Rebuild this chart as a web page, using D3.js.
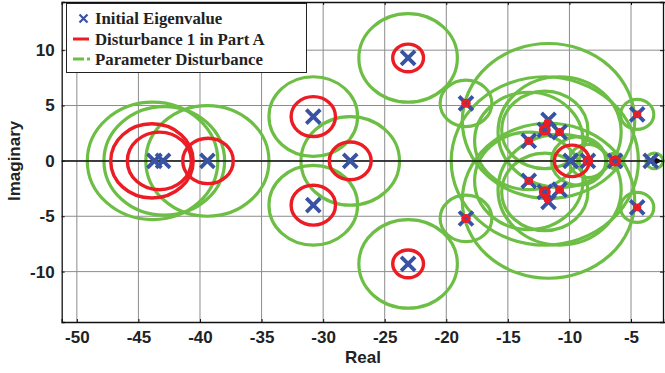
<!DOCTYPE html>
<html>
<head>
<meta charset="utf-8">
<script src="https://cdn.jsdelivr.net/npm/d3@7"></script>
<style>
body { margin: 0; background: #fff; }
svg { display: block; }
</style>
</head>
<body>
<svg id="drawing_region"></svg>
<script>
// tick values
const xTicks = [-50, -45, -40, -35, -30, -25, -20, -15, -10, -5];
const yTicks = [-10, -5, 0, 5, 10];

// initial eigenvalues (real, imag)
const eigReal = [-43.7, -43.0, -39.4, -30.8, -30.8, -27.8, -23.1, -23.1, -18.4, -18.4,
                 -13.3, -13.3, -11.7, -11.7, -12.0, -12.0, -10.8, -10.8, -9.9, -8.5,
                 -6.3, -4.5, -4.5, -3.4];
const eigImag = [0, 0, 0, 4.0, -4.0, 0, 9.3, -9.3, 5.2, -5.2,
                 1.8, -1.8, 3.7, -3.7, 2.8, -2.8, 2.6, -2.6, 0, 0,
                 0, 4.2, -4.2, 0];

// disturbance 1 in part A (centre real, centre imag, radius)
const redX = [-43.9, -43.3, -39.35, -30.8, -30.8, -27.8, -23.1, -23.1, -18.4, -18.4,
              -13.3, -13.3, -12.0, -12.0, -10.8, -10.8, -11.8, -11.8, -9.8, -8.5, -6.3, -4.5, -4.5];
const redY = [0, 0, 0, 4.0, -4.0, 0, 9.3, -9.3, 5.2, -5.2,
              1.8, -1.8, 2.8, -2.8, 2.6, -2.6, 3.5, -3.5, 0, 0, 0, 4.2, -4.2];
const redR = [3.35, 2.6, 2.05, 1.8, 1.8, 1.7, 1.25, 1.25, 0.25, 0.25,
              0.22, 0.22, 0.35, 0.35, 0.22, 0.22, 0.15, 0.15, 1.42, 0.3, 0.35, 0.2, 0.2];

// parameter disturbance (centre real, centre imag, radius)
const greenX = [-43.85, -42.9, -39.4, -30.8, -30.8, -27.8, -23.1, -23.1, -18.4, -18.4,
                -11.7, -11.7, -12.0, -13.3, -13.3, -10.8, -10.8, -12.0, -12.0,
                -9.25, -8.5, -6.3, -3.1, -4.5, -4.5];
const greenY = [0, 0, 0, 4.0, -4.0, 0, 9.3, -9.3, 5.2, -5.2,
                3.6, -3.6, 0, 1.8, -1.8, 2.6, -2.6, 2.8, -2.8,
                0, 0, 0, 0, 4.2, -4.2];
const greenR = [5.3, 4.9, 5.0, 3.6, 3.6, 4.0, 4.0, 4.0, 2.1, 2.1,
                7.0, 7.0, 7.6, 4.4, 4.4, 5.0, 5.0, 3.5, 3.5,
                2.2, 1.5, 0.7, 0.7, 1.35, 1.35];

const W = 665, H = 373;
const blue = '#3953a4', red = '#ec1c24', green = '#6dbe45';

const svg = d3.select('#drawing_region').attr('width', W).attr('height', H);

const x = d3.scaleLinear().domain([-51.23, -2.24]).range([61.7, 665]);
const y = d3.scaleLinear().domain([-14.55, 14.35]).range([322, 2]);

const pLeft = x.range()[0], pRight = x.range()[1];
const pTop = y.range()[1], pBottom = y.range()[0];

svg.append('defs').append('clipPath').attr('id', 'plot')
    .append('rect').attr('x', pLeft).attr('y', pTop)
    .attr('width', pRight - pLeft).attr('height', pBottom - pTop);

// grid
const grid = svg.append('g').attr('stroke', '#8c8c8c').attr('stroke-width', 1);
grid.selectAll('.gx').data(xTicks).enter().append('line')
    .attr('x1', d => x(d)).attr('x2', d => x(d))
    .attr('y1', pTop).attr('y2', pBottom);
grid.selectAll('.gy').data(yTicks).enter().append('line')
    .attr('x1', pLeft).attr('x2', pRight)
    .attr('y1', d => y(d)).attr('y2', d => y(d));

const plot = svg.append('g').attr('clip-path', 'url(#plot)');

const greens = greenX.map((d, i) => ({cx: d, cy: greenY[i], r: greenR[i]}));
const reds = redX.map((d, i) => ({cx: d, cy: redY[i], r: redR[i]}));
const eigs = eigReal.map((d, i) => ({re: d, im: eigImag[i]}));

plot.selectAll('.green').data(greens).enter().append('ellipse')
    .attr('cx', d => x(d.cx)).attr('cy', d => y(d.cy))
    .attr('rx', d => x(d.cx + d.r) - x(d.cx))
    .attr('ry', d => y(d.cy) - y(d.cy + d.r))
    .attr('fill', 'none').attr('stroke', green).attr('stroke-width', 3.2);

// real axis with arrow
svg.append('defs').append('marker').attr('id', 'arrow')
    .attr('viewBox', '0 0 10 10').attr('refX', 10).attr('refY', 5)
    .attr('markerWidth', 8).attr('markerHeight', 7).attr('orient', 'auto')
    .attr('markerUnits', 'strokeWidth')
    .append('path').attr('d', 'M0,0L10,5L0,10L3,5Z').attr('fill', '#111');
plot.append('line')
    .attr('x1', pLeft).attr('x2', x(-2.45))
    .attr('y1', y(0)).attr('y2', y(0))
    .attr('stroke', '#111').attr('stroke-width', 1.5)
    .attr('marker-end', 'url(#arrow)');

const xs = 7;
plot.selectAll('.eig').data(eigs).enter().append('path')
    .attr('d', d => {
        const px = x(d.re), py = y(d.im);
        return `M${px - xs},${py - xs}L${px + xs},${py + xs}M${px - xs},${py + xs}L${px + xs},${py - xs}`;
    })
    .attr('stroke', blue).attr('stroke-width', 3.8).attr('fill', 'none');

plot.selectAll('.red').data(reds).enter().append('ellipse')
    .attr('cx', d => x(d.cx)).attr('cy', d => y(d.cy))
    .attr('rx', d => x(d.cx + d.r) - x(d.cx))
    .attr('ry', d => y(d.cy) - y(d.cy + d.r))
    .attr('fill', 'none').attr('stroke', red).attr('stroke-width', 3.4);

// axes frame
const xaxisTop = d3.axisTop(x).tickValues(xTicks).tickSize(-3).tickFormat('');
const xaxisBottom = d3.axisBottom(x).tickValues(xTicks).tickSize(-3).tickFormat(d => d)
    .tickPadding(9);
const yaxisLeft = d3.axisLeft(y).tickValues(yTicks).tickSize(-3).tickFormat(d => d)
    .tickPadding(7);
const yaxisRight = d3.axisRight(y).tickValues(yTicks).tickSize(-3).tickFormat('');

const axStyle = g => {
    g.selectAll('path').attr('stroke', '#111').attr('stroke-width', 1.3);
    g.selectAll('line').attr('stroke', '#111');
    g.selectAll('text').attr('fill', '#222')
        .style('font-family', '"Liberation Sans", Arial, sans-serif')
        .style('font-weight', 'bold').style('font-size', '17px');
};
svg.append('g').attr('transform', `translate(0,${pTop})`).call(xaxisTop).call(axStyle);
svg.append('g').attr('transform', `translate(${pRight - 2},0)`).call(yaxisRight).call(axStyle);
svg.append('g').attr('transform', `translate(0,${pBottom})`).call(xaxisBottom).call(axStyle);
svg.append('g').attr('transform', `translate(${pLeft},0)`).call(yaxisLeft).call(axStyle);

// axis titles
svg.append('text')
    .attr('x', 363).attr('y', 363)
    .attr('text-anchor', 'middle')
    .style('font-family', '"Liberation Sans", Arial, sans-serif')
    .style('font-weight', 'bold').style('font-size', '17px').attr('fill', '#222')
    .text('Real');
svg.append('text')
    .attr('transform', `translate(20,${y(0)}) rotate(-90)`)
    .attr('text-anchor', 'middle')
    .style('font-family', '"Liberation Sans", Arial, sans-serif')
    .style('font-weight', 'bold').style('font-size', '17px').attr('fill', '#222')
    .text('Imaginary');

// legend
const legend = svg.append('g');
legend.append('rect')
    .attr('x', 66.5).attr('y', 3.5).attr('width', 240).attr('height', 69)
    .attr('fill', '#fff').attr('stroke', '#222').attr('stroke-width', 1);
const legendItems = ['Initial Eigenvalue', 'Disturbance 1 in Part A', 'Parameter Disturbance'];
const rowY = [18.5, 39, 59];
legend.selectAll('.lt').data(legendItems).enter().append('text')
    .attr('x', 95).attr('y', (d, i) => rowY[i] + 5.8)
    .style('font-family', '"Liberation Serif", "Times New Roman", serif')
    .style('font-weight', 'bold').style('font-size', '16.8px').attr('fill', '#222')
    .text(d => d);
legend.append('path')
    .attr('d', `M${83.5 - 4},${rowY[0] - 4}L${83.5 + 4},${rowY[0] + 4}M${83.5 - 4},${rowY[0] + 4}L${83.5 + 4},${rowY[0] - 4}`)
    .attr('stroke', blue).attr('stroke-width', 2.2);
legend.append('line')
    .attr('x1', 73).attr('x2', 89).attr('y1', rowY[1]).attr('y2', rowY[1])
    .attr('stroke', red).attr('stroke-width', 3);
legend.append('line')
    .attr('x1', 73).attr('x2', 84).attr('y1', rowY[2]).attr('y2', rowY[2])
    .attr('stroke', green).attr('stroke-width', 3);
legend.append('line')
    .attr('x1', 87).attr('x2', 90).attr('y1', rowY[2]).attr('y2', rowY[2])
    .attr('stroke', green).attr('stroke-width', 3);
</script>
</body>
</html>
